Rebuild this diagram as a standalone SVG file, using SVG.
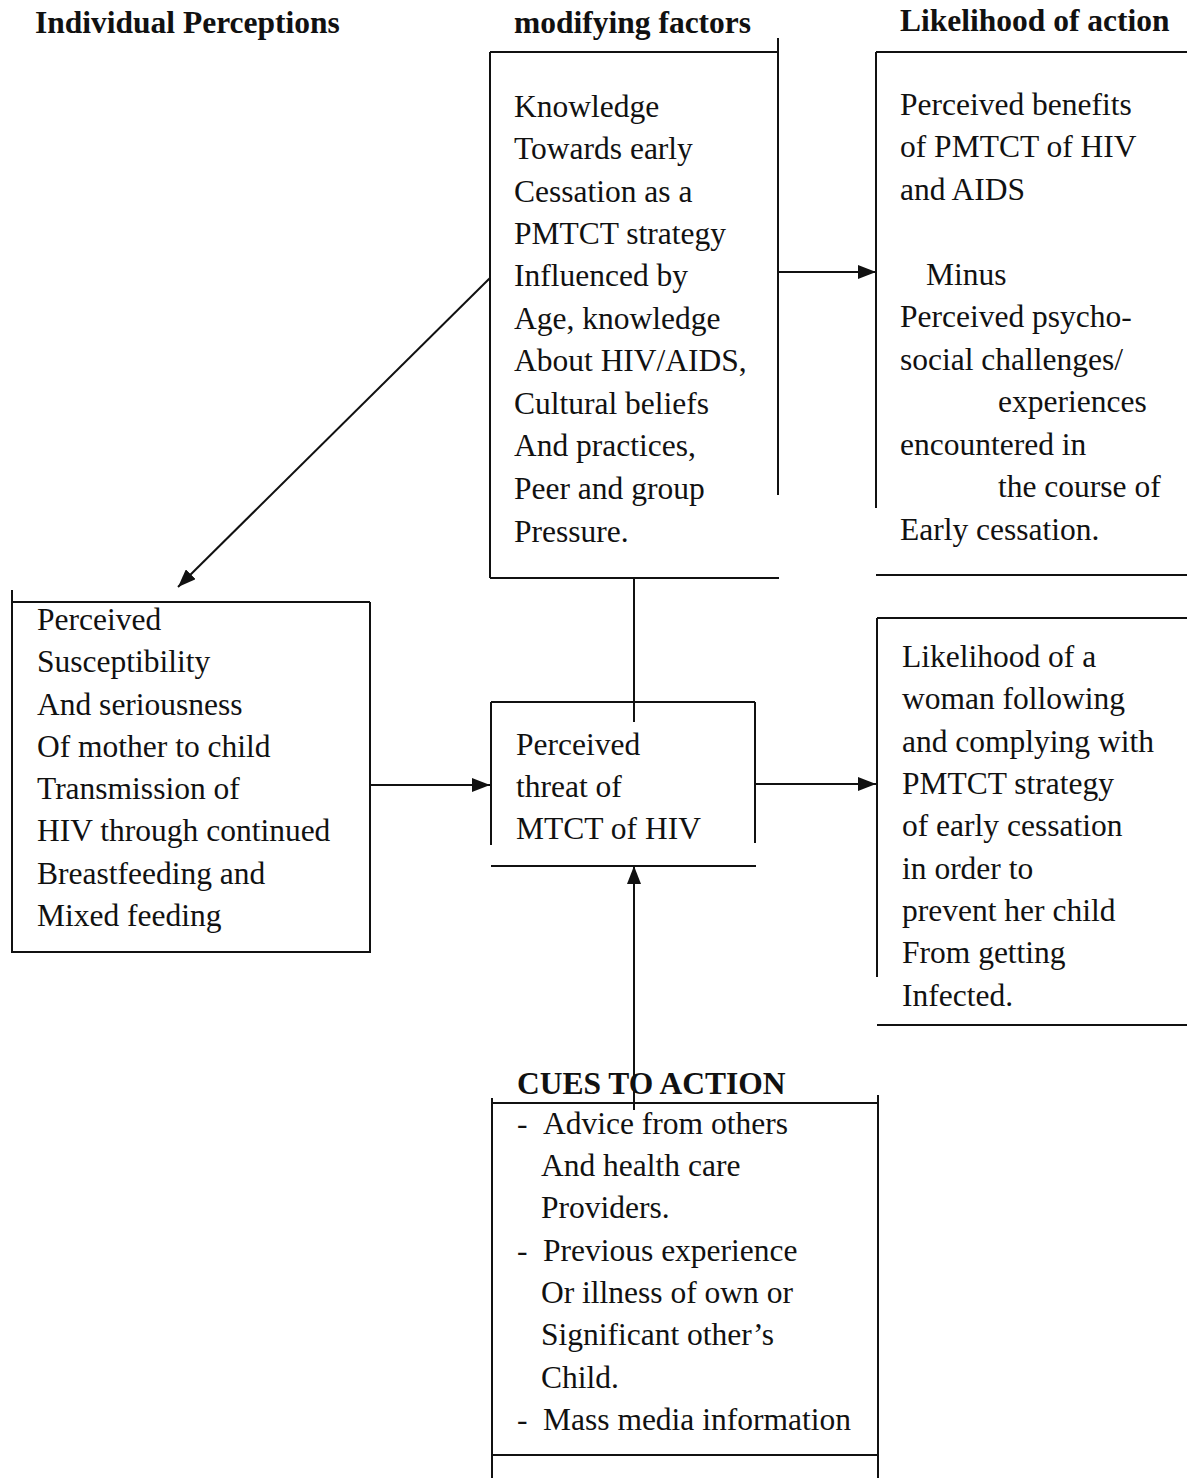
<svg xmlns="http://www.w3.org/2000/svg" width="1187" height="1478" viewBox="0 0 1187 1478">
<style>
.t{font-family:"Liberation Serif","Times New Roman",serif;font-size:31.5px;fill:#111}
.h{font-family:"Liberation Serif","Times New Roman",serif;font-size:31.5px;font-weight:bold;fill:#111}
.ln{stroke:#111;stroke-width:2;fill:none}
</style>
<defs>
<marker id="ah2" markerWidth="18" markerHeight="14" refX="18" refY="7" orient="auto" markerUnits="userSpaceOnUse" viewBox="0 0 18 14">
<path d="M0,0 L18,7 L0,14 z" fill="#111"/>
</marker>
</defs>
<rect width="1187" height="1478" fill="#fff"/>
<g id="headers">
<text class="h" x="35" y="33">Individual Perceptions</text>
<text class="h" x="514" y="33">modifying factors</text>
<text class="h" x="900" y="31">Likelihood of action</text>
</g>
<g id="modifying-factors">
<path class="ln" d="M490,52 H777 M778,38 V495 M490,52 V578 M490,578 H779"/>
<text class="t" x="514" y="117">Knowledge</text>
<text class="t" x="514" y="159">Towards early</text>
<text class="t" x="514" y="202">Cessation as a</text>
<text class="t" x="514" y="244">PMTCT strategy</text>
<text class="t" x="514" y="286">Influenced by</text>
<text class="t" x="514" y="329">Age, knowledge</text>
<text class="t" x="514" y="371">About HIV/AIDS,</text>
<text class="t" x="514" y="414">Cultural beliefs</text>
<text class="t" x="514" y="456">And practices,</text>
<text class="t" x="514" y="499">Peer and group</text>
<text class="t" x="514" y="542">Pressure.</text>
</g>
<g id="benefits">
<path class="ln" d="M876,52 H1187 M876,52 V508 M876,575 H1187"/>
<text class="t" x="900" y="115">Perceived benefits</text>
<text class="t" x="900" y="157">of PMTCT of HIV</text>
<text class="t" x="900" y="200">and AIDS</text>
<text class="t" x="926" y="285">Minus</text>
<text class="t" x="900" y="327">Perceived psycho-</text>
<text class="t" x="900" y="370">social challenges/</text>
<text class="t" x="998" y="412">experiences</text>
<text class="t" x="900" y="455">encountered in</text>
<text class="t" x="998" y="497">the course of</text>
<text class="t" x="900" y="540">Early cessation.</text>
</g>
<g id="susceptibility">
<path class="ln" d="M12,602 H370 M12,590 V953 M370,602 V952 M12,952 H371"/>
<text class="t" x="37" y="630">Perceived</text>
<text class="t" x="37" y="672">Susceptibility</text>
<text class="t" x="37" y="715">And seriousness</text>
<text class="t" x="37" y="757">Of mother to child</text>
<text class="t" x="37" y="799">Transmission of</text>
<text class="t" x="37" y="841">HIV through continued</text>
<text class="t" x="37" y="884">Breastfeeding and</text>
<text class="t" x="37" y="926">Mixed feeding</text>
</g>
<g id="threat">
<path class="ln" d="M491,702 H755 M491,702 V845 M755,702 V843 M491,866 H756"/>
<text class="t" x="516" y="755">Perceived</text>
<text class="t" x="516" y="797">threat of</text>
<text class="t" x="516" y="839">MTCT of HIV</text>
</g>
<g id="likelihood">
<path class="ln" d="M877,618 H1187 M877,618 V977 M877,1025 H1187"/>
<text class="t" x="902" y="667">Likelihood of a</text>
<text class="t" x="902" y="709">woman following</text>
<text class="t" x="902" y="752">and complying with</text>
<text class="t" x="902" y="794">PMTCT strategy</text>
<text class="t" x="902" y="836">of early cessation</text>
<text class="t" x="902" y="879">in order to</text>
<text class="t" x="902" y="921">prevent her child</text>
<text class="t" x="902" y="963">From getting</text>
<text class="t" x="902" y="1006">Infected.</text>
</g>
<g id="cues">
<text class="h" x="517" y="1094">CUES TO ACTION</text>
<path class="ln" d="M492,1103 H877 M492,1098 V1478 M878,1095 V1478 M492,1455 H878"/>
<text class="t" x="517" y="1134">-</text>
<text class="t" x="543" y="1134">Advice from others</text>
<text class="t" x="541" y="1176">And health care</text>
<text class="t" x="541" y="1218">Providers.</text>
<text class="t" x="517" y="1261">-</text>
<text class="t" x="543" y="1261">Previous experience</text>
<text class="t" x="541" y="1303">Or illness of own or</text>
<text class="t" x="541" y="1345">Significant other’s</text>
<text class="t" x="541" y="1388">Child.</text>
<text class="t" x="517" y="1430">-</text>
<text class="t" x="543" y="1430">Mass media information</text>
</g>
<g id="connectors">
<line class="ln" x1="778" y1="272" x2="876" y2="272" marker-end="url(#ah2)"/>
<line class="ln" x1="490" y1="278" x2="178" y2="587" marker-end="url(#ah2)"/>
<line class="ln" x1="634" y1="578" x2="634" y2="722"/>
<line class="ln" x1="370" y1="785" x2="490" y2="785" marker-end="url(#ah2)"/>
<line class="ln" x1="755" y1="784" x2="876" y2="784" marker-end="url(#ah2)"/>
<line class="ln" x1="634" y1="1110" x2="634" y2="866" marker-end="url(#ah2)"/>
</g>
</svg>
